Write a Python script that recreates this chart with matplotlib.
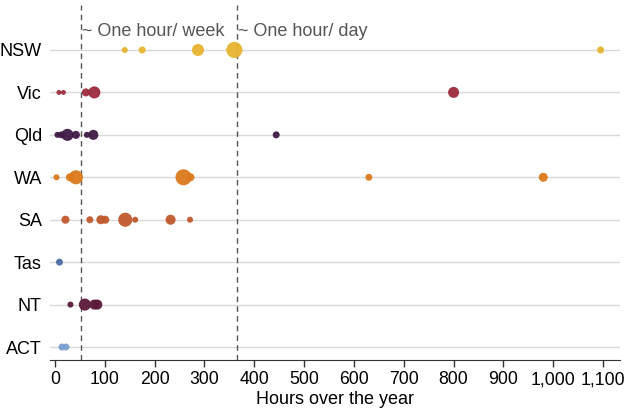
import numpy as np
import matplotlib.pyplot as plt
from matplotlib.ticker import FuncFormatter

plt.rcParams['font.family'] = ['Liberation Sans', 'DejaVu Sans']

states = ['NSW', 'Vic', 'Qld', 'WA', 'SA', 'Tas', 'NT', 'ACT']
colours = ['#e6b42e', '#9b2b3d', '#3e1a44', '#dc7a1c', '#c0582c', '#4b6ea5', '#5c1a3a', '#7b9fd0']

# hours over the year and number of responses for each state
nsw_hours = [140, 175, 287, 360, 1095]
nsw_count = [9, 12, 36, 64, 12]
vic_hours = [8, 17, 62, 79, 800]
vic_count = [6, 6, 16, 36, 30]
qld_hours = [5, 13, 25, 42, 64, 77, 444]
qld_count = [9, 12, 36, 16, 9, 25, 12]
wa_hours = [3, 30, 42, 258, 272, 630, 980]
wa_count = [9, 16, 49, 64, 16, 12, 20]
sa_hours = [21, 70, 92, 101, 141, 161, 232, 271]
sa_count = [16, 12, 20, 16, 49, 9, 25, 9]
tas_hours = [9]
tas_count = [12]
nt_hours = [31, 60, 79, 85]
nt_count = [9, 36, 25, 25]
act_hours = [14, 22]
act_count = [12, 12]

hours = [nsw_hours, vic_hours, qld_hours, wa_hours, sa_hours, tas_hours, nt_hours, act_hours]
counts = [nsw_count, vic_count, qld_count, wa_count, sa_count, tas_count, nt_count, act_count]

week_hours = 52
day_hours = 365

fig = plt.figure(figsize=(6.28, 4.11), dpi=100)
ax = fig.add_axes([50 / 628, 51 / 411, 570 / 628, 355 / 411])

n = len(states)
for i, st in enumerate(states):
    y = n - 1 - i
    ax.axhline(y, color='#d9d9d9', lw=1, zorder=0)
    ax.scatter(hours[i], [y] * len(hours[i]), s=np.array(counts[i]) * 2.1,
               color=colours[i], edgecolors='none', alpha=0.95, zorder=3)

for v, lab in [(week_hours, '~ One hour/ week'), (day_hours, '~ One hour/ day')]:
    ax.axvline(v, color='#555555', lw=1, ls=(0, (4, 3)), zorder=2)
    ax.text(v + 3, 7.33, lab, fontsize=13, color='#555555', va='baseline', ha='left')

ax.set_xlim(-10, 1134)
ax.set_ylim(-0.306, 8.06)
ax.set_yticks(range(n))
ax.set_yticklabels(states[::-1], fontsize=13)
ax.tick_params(axis='y', length=0, pad=5.8)
ax.set_xticks(range(0, 1101, 100))
ax.xaxis.set_major_formatter(FuncFormatter(lambda v, p: f'{int(v):,}'))
ax.tick_params(axis='x', labelsize=12.7, length=5, width=1, color='#333333', pad=3)
ax.set_xlabel('Hours over the year', fontsize=13, labelpad=2)

for s in ['top', 'right', 'left']:
    ax.spines[s].set_visible(False)
ax.spines['bottom'].set_color('#333333')

fig.savefig('out.png', dpi=100)
